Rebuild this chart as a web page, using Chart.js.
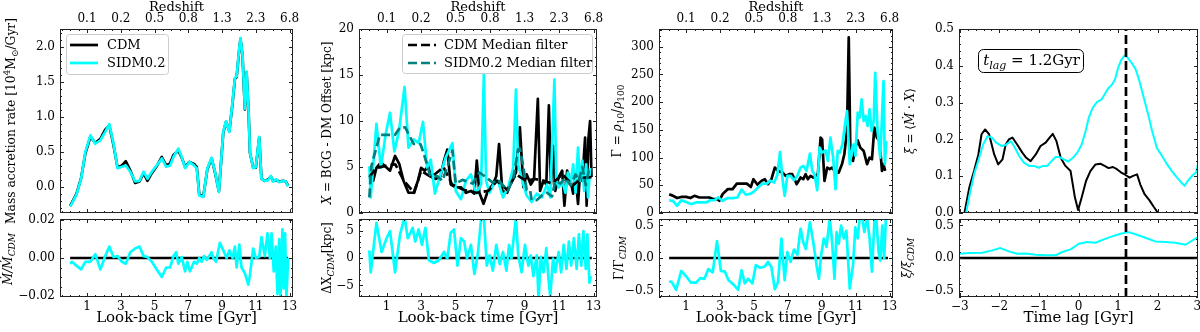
<!DOCTYPE html>
<html>
<head>
<meta charset="utf-8">
<script src="https://cdn.jsdelivr.net/npm/chart.js@4.4.1/dist/chart.umd.min.js"></script>
<style>
  body { margin: 0; width: 1200px; height: 332px; background: #fff; position: relative; overflow: hidden; }
  canvas { position: absolute; }
</style>
</head>
<body>
<script>
// ---- data ----
const lookbackTicks = [1, 3, 5, 7, 9, 11, 13];
const zLabels = ['0.1', '0.2', '0.5', '0.8', '1.3', '2.3', '6.8'];
const lagTicks = [-3, -2, -1, 0, 1, 2, 3];
const tLag = 1.2;

// panel 1: mass accretion rate
const p1Time = [0.0, 0.11, 0.37, 0.65, 0.90, 1.20, 1.49, 1.79, 2.08, 2.32, 2.57, 2.81, 3.07, 3.30, 3.56, 3.85, 4.11, 4.35, 4.58, 4.84, 5.13, 5.43, 5.69, 5.92, 6.12, 6.41, 6.61, 6.81, 7.06, 7.34, 7.50, 7.65, 7.89, 8.13, 8.38, 8.58, 8.81, 9.07, 9.23, 9.43, 9.62, 9.76, 9.86, 10.02, 10.09, 10.21, 10.35, 10.45, 10.57, 10.65, 10.84, 11.00, 11.20, 11.33, 11.53, 11.73, 11.89, 12.02, 12.22, 12.38, 12.61, 12.77, 12.91];
const p1Sidm = [-0.28, -0.23, -0.11, 0.12, 0.50, 0.74, 0.62, 0.67, 0.79, 0.90, 0.62, 0.27, 0.29, 0.31, 0.22, 0.08, 0.09, 0.22, 0.12, 0.22, 0.31, 0.41, 0.29, 0.31, 0.43, 0.55, 0.43, 0.27, 0.36, 0.31, 0.27, -0.12, -0.14, 0.27, 0.42, 0.22, -0.07, 0.79, 0.94, 0.79, 1.22, 1.56, 1.58, 1.99, 2.13, 1.89, 1.12, 1.65, 1.08, 0.50, 0.27, 0.29, 0.72, 0.12, 0.09, 0.10, 0.16, 0.08, 0.11, 0.07, 0.09, 0.08, 0.01];
const p1Cdm = [-0.27, -0.22, -0.10, 0.13, 0.48, 0.72, 0.63, 0.69, 0.82, 0.88, 0.60, 0.28, 0.31, 0.37, 0.24, 0.06, 0.08, 0.20, 0.09, 0.20, 0.30, 0.43, 0.31, 0.34, 0.46, 0.52, 0.42, 0.29, 0.36, 0.33, 0.29, -0.11, -0.13, 0.26, 0.41, 0.21, -0.06, 0.78, 0.93, 0.80, 1.20, 1.55, 1.57, 1.98, 2.12, 1.88, 1.11, 1.64, 1.07, 0.49, 0.28, 0.28, 0.71, 0.12, 0.09, 0.11, 0.15, 0.09, 0.10, 0.08, 0.09, 0.08, 0.02];
const p1RatioTime = [0.0, 0.11, 0.37, 0.65, 0.90, 1.20, 1.49, 1.79, 2.08, 2.32, 2.57, 2.81, 3.07, 3.30, 3.56, 3.85, 4.11, 4.35, 4.58, 4.84, 5.13, 5.43, 5.69, 5.92, 6.12, 6.28, 6.41, 6.61, 6.81, 6.94, 7.10, 7.34, 7.50, 7.65, 7.79, 7.93, 8.09, 8.24, 8.38, 8.48, 8.64, 8.87, 9.07, 9.27, 9.43, 9.62, 9.76, 9.86, 10.02, 10.15, 10.35, 10.55, 10.65, 10.84, 11.00, 11.20, 11.33, 11.53, 11.69, 11.83, 11.93, 12.06, 12.18, 12.28, 12.38, 12.46, 12.57, 12.65, 12.73, 12.81, 12.91];
const p1Ratio = [-0.003, -0.002, -0.004, -0.006, -0.002, -0.002, 0.002, -0.006, 0.001, 0.006, 0.0005, 0.001, -0.002, -0.003, 0.003, 0.005, 0.006, 0.001, 0.0005, -0.002, -0.006, -0.010, -0.005, -0.005, 0.001, 0.003, -0.003, 0.0005, -0.007, -0.002, -0.007, -0.002, -0.003, 0, -0.002, 0.001, -0.001, 0.001, 0.003, 0, -0.002, 0.008, 0.004, 0, 0.004, 0, 0.006, -0.005, 0.007, -0.005, -0.008, -0.014, -0.009, 0.005, 0, 0.0005, 0.011, 0.001, 0.013, 0, 0.013, -0.007, 0.006, -0.019, 0.010, -0.022, 0.015, -0.016, 0.013, -0.021, 0];

// panel 2: BCG - DM offset
const p2CdmTime = [0.0, 0.22, 0.41, 0.67, 0.90, 1.20, 1.49, 1.74, 1.98, 2.27, 2.57, 2.82, 3.00, 3.21, 3.41, 3.60, 3.84, 4.13, 4.33, 4.52, 4.72, 5.01, 5.31, 5.60, 5.89, 6.09, 6.23, 6.38, 6.62, 6.87, 7.16, 7.36, 7.52, 7.71, 7.99, 8.24, 8.50, 8.73, 8.93, 9.12, 9.36, 9.55, 9.77, 9.90, 10.10, 10.26, 10.41, 10.53, 10.65, 10.78, 10.98, 11.18, 11.31, 11.47, 11.67, 11.82, 11.96, 12.10, 12.21, 12.35, 12.51, 12.60, 12.70, 12.80, 12.88];
const p2Cdm = [3.9, 3.5, 4.9, 5.5, 5.1, 4.6, 6.2, 5.3, 3.5, 2.2, 2.2, 3.5, 4.9, 4.6, 5.1, 3.9, 3.7, 4.0, 5.7, 6.9, 3.1, 2.8, 2.8, 2.2, 2.4, 2.1, 5.7, 2.2, 1.0, 2.4, 3.1, 4.0, 7.5, 2.4, 2.2, 3.5, 4.4, 9.3, 2.8, 4.2, 3.1, 3.7, 12.4, 2.4, 3.5, 3.1, 11.7, 3.1, 7.3, 2.4, 3.9, 4.6, 0.8, 4.6, 3.5, 2.1, 4.0, 1.0, 4.2, 3.5, 8.2, 0.8, 8.0, 10.0, 3.9];
const p2SidmTime = [0.0, 0.08, 0.41, 0.67, 0.94, 1.20, 1.45, 1.72, 2.04, 2.27, 2.57, 2.86, 3.11, 3.35, 3.56, 3.80, 4.13, 4.42, 4.82, 5.01, 5.31, 5.60, 5.89, 6.19, 6.48, 6.64, 6.77, 6.97, 7.20, 7.46, 7.75, 8.05, 8.34, 8.50, 8.63, 8.87, 9.12, 9.41, 9.71, 10.00, 10.30, 10.49, 10.73, 10.84, 10.98, 11.18, 11.37, 11.51, 11.67, 11.82, 11.96, 12.10, 12.21, 12.35, 12.45, 12.57, 12.68, 12.80];
const p2Sidm = [5.1, 1.7, 9.7, 4.9, 8.5, 10.9, 6.7, 8.9, 13.7, 7.1, 8.0, 7.6, 9.9, 4.9, 5.8, 2.1, 4.2, 6.0, 7.6, 2.4, 1.5, 3.5, 4.2, 2.1, 3.1, 15.1, 3.5, 2.2, 3.1, 3.5, 1.7, 2.8, 4.9, 13.4, 5.3, 3.5, 1.9, 1.2, 2.1, 1.7, 3.1, 1.7, 14.5, 3.5, 2.8, 3.5, 2.2, 4.4, 3.1, 5.3, 2.2, 7.1, 3.5, 5.7, 2.4, 5.3, 1.7, 4.9];
const p2CdmMedTime = [0.0, 0.4, 0.9, 1.5, 2.0, 2.6, 3.0, 3.6, 4.3, 4.8, 5.5, 6.2, 6.9, 7.4, 8.0, 8.5, 9.1, 9.6, 10.1, 10.6, 11.2, 11.8, 12.3, 12.9];
const p2CdmMed = [3.9, 4.9, 5.1, 5.3, 3.5, 2.2, 4.6, 3.9, 5.0, 3.1, 2.5, 2.2, 2.4, 3.5, 2.5, 4.2, 3.5, 3.7, 3.5, 3.2, 4.2, 3.0, 3.8, 3.9];
const p2SidmMedTime = [0.0, 0.12, 0.61, 1.49, 1.78, 2.08, 2.57, 2.96, 3.15, 3.54, 3.94, 4.23, 4.52, 4.82, 5.01, 5.40, 5.99, 6.38, 6.68, 7.16, 7.46, 7.75, 8.05, 8.34, 8.63, 8.73, 8.93, 9.12, 9.32, 9.41, 9.71, 10.00, 10.30, 10.59, 10.78, 11.08, 11.37, 11.67, 11.96, 12.15, 12.35, 12.55, 12.74];
const p2SidmMed = [1.7, 5.1, 8.5, 8.5, 9.3, 9.3, 7.5, 7.5, 6.5, 4.0, 4.0, 3.5, 5.0, 6.8, 3.2, 3.6, 3.2, 4.4, 4.0, 3.3, 3.6, 3.0, 2.5, 3.7, 6.9, 7.0, 5.0, 2.5, 2.5, 1.4, 1.4, 1.9, 2.2, 1.8, 3.5, 3.2, 3.8, 3.0, 4.2, 3.5, 5.0, 3.0, 4.8];
const p2RatioTime = [0.0, 0.08, 0.41, 0.71, 1.00, 1.20, 1.49, 1.78, 2.04, 2.23, 2.51, 2.66, 2.86, 3.05, 3.25, 3.45, 3.74, 4.03, 4.33, 4.52, 4.72, 4.91, 5.11, 5.31, 5.50, 5.66, 5.89, 6.09, 6.28, 6.48, 6.64, 6.81, 6.97, 7.16, 7.36, 7.56, 7.75, 7.95, 8.10, 8.24, 8.50, 8.63, 8.83, 9.02, 9.22, 9.36, 9.51, 9.71, 9.81, 9.94, 10.10, 10.26, 10.39, 10.49, 10.65, 10.78, 10.98, 11.12, 11.27, 11.43, 11.57, 11.70, 11.86, 12.02, 12.15, 12.29, 12.41, 12.55, 12.64, 12.76, 12.84];
const p2Ratio = [1.4, -2.6, 6.4, 1.1, 3.6, 4.9, -2.6, 4.3, 7.4, 3.6, 5.5, 3.0, 5.2, 2.4, 5.5, -0.4, -0.9, -0.4, 1.1, -0.1, 4.6, 5.2, -1.4, 3.6, 3.0, -0.1, 2.4, -2.9, 0.5, 7.1, 7.4, -1.4, 0.5, -2.3, 2.4, -1.1, 1.1, -2.3, 2.4, -0.1, 7.4, 0.5, -2.6, 2.4, -1.4, 0.5, -3.3, 0.5, -7.6, 0.2, -2.6, 1.8, -3.9, -7.0, -0.1, -2.6, 1.1, -2.6, 2.4, -2.0, 3.0, -1.4, 3.6, -2.0, 4.3, -1.4, 4.9, -2.0, 4.3, -4.5, -3.3];

// panel 3: central density ratio
const p3CdmTime = [0.0, 0.22, 0.47, 0.71, 1.00, 1.25, 1.49, 1.78, 2.08, 2.37, 2.62, 2.86, 2.96, 3.15, 3.45, 3.74, 3.99, 4.27, 4.58, 4.82, 4.97, 5.21, 5.44, 5.64, 5.83, 6.03, 6.23, 6.42, 6.68, 6.87, 7.07, 7.26, 7.52, 7.75, 7.91, 8.05, 8.18, 8.34, 8.50, 8.63, 8.77, 8.93, 9.02, 9.16, 9.32, 9.47, 9.61, 9.81, 10.00, 10.20, 10.33, 10.49, 10.59, 10.69, 10.84, 10.98, 11.12, 11.27, 11.47, 11.67, 11.82, 11.96, 12.10, 12.25, 12.41, 12.55, 12.64, 12.74];
const p3Cdm = [34, 31, 27, 29, 29, 27, 31, 28, 28, 28, 25, 25, 22, 34, 43, 43, 53, 53, 53, 47, 61, 51, 58, 61, 52, 61, 82, 76, 73, 67, 70, 70, 52, 64, 61, 70, 61, 67, 64, 67, 70, 136, 133, 58, 82, 79, 82, 73, 73, 89, 106, 150, 317, 100, 94, 118, 131, 118, 112, 88, 100, 97, 154, 136, 130, 76, 88, 76];
const p3SidmTime = [0.0, 0.22, 0.47, 0.71, 1.00, 1.29, 1.59, 1.88, 2.17, 2.43, 2.66, 2.90, 3.15, 3.45, 3.74, 4.03, 4.27, 4.52, 4.82, 5.01, 5.21, 5.50, 5.76, 5.95, 6.19, 6.38, 6.54, 6.68, 6.81, 6.97, 7.16, 7.36, 7.56, 7.75, 7.91, 8.10, 8.30, 8.44, 8.57, 8.73, 8.87, 9.02, 9.22, 9.36, 9.51, 9.67, 9.81, 9.94, 10.06, 10.22, 10.37, 10.49, 10.65, 10.77, 10.88, 10.98, 11.12, 11.23, 11.35, 11.47, 11.59, 11.70, 11.82, 11.94, 12.06, 12.15, 12.29, 12.45, 12.64, 12.72, 12.80];
const p3Sidm = [23, 22, 13, 23, 20, 16, 19, 19, 19, 23, 23, 28, 22, 27, 27, 28, 42, 33, 35, 39, 45, 53, 53, 58, 55, 69, 110, 63, 31, 67, 67, 59, 67, 82, 85, 76, 107, 76, 70, 41, 118, 109, 113, 94, 136, 100, 43, 112, 109, 124, 160, 184, 88, 112, 124, 103, 181, 172, 205, 166, 175, 157, 187, 148, 166, 253, 148, 100, 238, 88, 130];
const p3RatioTime = [0.0, 0.16, 0.41, 0.71, 1.00, 1.29, 1.59, 1.84, 2.08, 2.31, 2.57, 2.82, 3.05, 3.29, 3.49, 3.80, 4.07, 4.27, 4.46, 4.66, 4.91, 5.11, 5.36, 5.64, 5.83, 6.03, 6.23, 6.42, 6.62, 6.81, 6.97, 7.16, 7.36, 7.56, 7.75, 7.91, 8.06, 8.30, 8.50, 8.69, 8.83, 8.96, 9.12, 9.28, 9.47, 9.61, 9.75, 9.87, 10.00, 10.14, 10.30, 10.45, 10.65, 10.84, 10.98, 11.12, 11.23, 11.37, 11.51, 11.67, 11.82, 11.96, 12.10, 12.21, 12.35, 12.45, 12.57, 12.68, 12.78];
const p3Ratio = [-0.36, -0.37, -0.49, -0.20, -0.28, -0.38, -0.38, -0.31, -0.32, -0.17, -0.22, 0.26, -0.20, -0.21, -0.34, -0.41, -0.49, -0.19, -0.39, -0.32, -0.39, -0.11, -0.15, -0.13, -0.06, -0.14, -0.48, -0.37, 0.30, -0.34, 0.09, -0.06, 0.13, 0.05, 0.45, 0.24, 0.14, 0.55, 0.24, -0.11, -0.32, 0.04, 0.30, 0.17, 0.62, 0.24, -0.32, 0.40, 0.22, 0.50, 0.30, 0.42, -0.47, -0.11, 0.47, 0.30, 0.62, 0.65, 0.40, 0.62, 0.30, -0.21, 0.55, 0.62, 0.09, -0.04, 0.50, -0.01, 0.62];

// panel 4: cross-correlation vs time lag
const p4CdmLag = [-2.90, -2.76, -2.64, -2.53, -2.45, -2.36, -2.26, -2.13, -2.03, -1.92, -1.84, -1.76, -1.67, -1.55, -1.42, -1.32, -1.21, -1.08, -0.96, -0.83, -0.73, -0.65, -0.56, -0.45, -0.33, -0.20, -0.09, -0.01, 0.08, 0.19, 0.30, 0.43, 0.55, 0.66, 0.76, 0.87, 0.97, 1.08, 1.18, 1.29, 1.38, 1.48, 1.56, 1.67, 1.79, 1.90, 2.01, 2.08];
const p4Cdm = [-0.01, 0.069, 0.114, 0.159, 0.214, 0.227, 0.214, 0.159, 0.132, 0.146, 0.186, 0.200, 0.205, 0.186, 0.164, 0.150, 0.141, 0.159, 0.182, 0.191, 0.205, 0.215, 0.196, 0.150, 0.128, 0.114, 0.042, 0.008, 0.042, 0.087, 0.114, 0.132, 0.134, 0.128, 0.122, 0.125, 0.119, 0.110, 0.104, 0.096, 0.101, 0.105, 0.078, 0.051, 0.035, 0.017, 0.0, -0.01];
const p4SidmLag = [-2.86, -2.75, -2.64, -2.51, -2.41, -2.30, -2.19, -2.08, -1.94, -1.84, -1.71, -1.63, -1.50, -1.38, -1.25, -1.13, -1.00, -0.90, -0.79, -0.68, -0.58, -0.48, -0.37, -0.26, -0.14, -0.03, 0.08, 0.18, 0.26, 0.36, 0.47, 0.58, 0.68, 0.76, 0.85, 0.92, 1.00, 1.08, 1.17, 1.25, 1.35, 1.45, 1.54, 1.65, 1.76, 1.86, 1.98, 2.11, 2.24, 2.36, 2.49, 2.60, 2.68, 2.76, 2.87, 2.97, 3.02];
const p4Sidm = [-0.01, 0.051, 0.105, 0.150, 0.186, 0.209, 0.205, 0.191, 0.182, 0.185, 0.195, 0.182, 0.155, 0.137, 0.128, 0.128, 0.123, 0.128, 0.128, 0.141, 0.152, 0.152, 0.146, 0.140, 0.150, 0.164, 0.186, 0.223, 0.259, 0.286, 0.302, 0.308, 0.326, 0.340, 0.349, 0.362, 0.394, 0.416, 0.428, 0.421, 0.407, 0.389, 0.358, 0.313, 0.268, 0.223, 0.177, 0.155, 0.132, 0.114, 0.096, 0.083, 0.074, 0.087, 0.101, 0.110, 0.132];
const p4RatioLag = [-3.02, -2.76, -2.43, -2.18, -1.97, -1.76, -1.55, -1.34, -1.08, -0.83, -0.58, -0.41, -0.20, 0.01, 0.22, 0.43, 0.64, 0.85, 1.06, 1.27, 1.48, 1.69, 1.94, 2.19, 2.45, 2.70, 3.02];
const p4Ratio = [0.066, 0.077, 0.082, 0.117, 0.153, 0.102, 0.066, 0.071, 0.051, 0.041, 0.041, 0.092, 0.133, 0.219, 0.245, 0.235, 0.286, 0.332, 0.372, 0.398, 0.357, 0.311, 0.255, 0.245, 0.235, 0.204, 0.321];

// ---- drawing helpers ----
const SERIF = '"DejaVu Serif", serif';
const CYAN = '#00ffff';
const TEAL = '#008080';
Chart.defaults.font.family = SERIF;
Chart.defaults.font.size = 12;
Chart.defaults.color = '#000';

const minus = s => s.replace('-', '\u2212');
const fmt = d => v => minus((Math.abs(v) < 1e-9 ? 0 : v).toFixed(d));

function line(label, t, v, color, extra) {
  return Object.assign({
    label, data: t.map((x, i) => ({ x, y: v[i] })),
    borderColor: color, borderWidth: 2.7, pointRadius: 0,
    borderJoinStyle: 'round', fill: false, tension: 0
  }, extra);
}

function drawRich(ctx, segs, x, y, rot, size) {
  const parts = segs.map(([t, f = '']) => {
    const small = f.includes('b') || f.includes('p');
    const font = (f.includes('i') ? 'italic ' : '') + (small ? Math.round(size * 0.72) : size) + 'px ' + SERIF;
    ctx.font = font;
    return { t, font, w: ctx.measureText(t).width, dy: f.includes('b') ? size * 0.28 : f.includes('p') ? -size * 0.35 : 0 };
  });
  const total = parts.reduce((s, p) => s + p.w, 0);
  ctx.save();
  ctx.translate(x, y);
  ctx.rotate(rot);
  ctx.fillStyle = '#000';
  ctx.textBaseline = 'middle';
  let cx = -total / 2;
  parts.forEach(p => { ctx.font = p.font; ctx.fillText(p.t, cx, p.dy); cx += p.w; });
  ctx.restore();
}

// inward ticks on all four sides + axes frame
function frame(spec) {
  return {
    id: 'frame',
    afterDraw(chart) {
      const { ctx, chartArea: a, scales } = chart;
      ctx.save();
      ctx.strokeStyle = '#222';
      ctx.lineWidth = 1;
      const marks = (sc, step, base, len, horiz) => {
        const first = Math.ceil((sc.min - base) / step - 1e-6) * step + base;
        for (let k = 0; first + k * step <= sc.max + 1e-9; k++) {
          const p = Math.round(sc.getPixelForValue(first + k * step)) + 0.5;
          ctx.beginPath();
          if (horiz) {
            ctx.moveTo(p, a.bottom); ctx.lineTo(p, a.bottom - len);
            ctx.moveTo(p, a.top); ctx.lineTo(p, a.top + len);
          } else {
            ctx.moveTo(a.left, p); ctx.lineTo(a.left + len, p);
            ctx.moveTo(a.right, p); ctx.lineTo(a.right - len, p);
          }
          ctx.stroke();
        }
      };
      marks(scales.x, spec.x[2], 0, 2, true);
      marks(scales.x, spec.x[0], spec.x[1], 4, true);
      marks(scales.y, spec.y[2], 0, 2, false);
      marks(scales.y, spec.y[0], spec.y[1], 4, false);
      ctx.strokeRect(Math.round(a.left) + 0.5, Math.round(a.top) + 0.5,
        Math.round(a.right - a.left) - 1, Math.round(a.bottom - a.top) - 1);
      ctx.restore();
    }
  };
}

// y-axis titles (and the t_lag label) with sub/superscripts
function rich(items) {
  return {
    id: 'rich',
    afterDraw(chart) {
      const { ctx, chartArea: a } = chart;
      items.forEach(it => {
        if (it.box) {
          const x = a.left + it.box[0], y = a.top + it.box[1];
          ctx.save();
          ctx.fillStyle = '#fff';
          ctx.strokeStyle = '#000';
          ctx.lineWidth = 1;
          ctx.beginPath();
          ctx.roundRect(x + 0.5, y + 0.5, it.box[2], it.box[3], 5);
          ctx.fill();
          ctx.stroke();
          ctx.restore();
          drawRich(ctx, it.segs, x + it.box[2] / 2 + 1, y + it.box[3] / 2 + 1, 0, it.size);
        } else {
          drawRich(ctx, it.segs, a.left + it.dx, (a.top + a.bottom) / 2 + (it.dy || 0), -Math.PI / 2, it.size);
        }
      });
    }
  };
}

function boxLegend(o) {
  return {
    id: 'boxLegend',
    afterDraw(chart) {
      const { ctx, chartArea: a } = chart;
      const x = a.left + o.dx, y = a.top + o.dy;
      ctx.save();
      ctx.fillStyle = 'rgba(255,255,255,0.8)';
      ctx.strokeStyle = '#cccccc';
      ctx.lineWidth = 1;
      ctx.beginPath();
      ctx.roundRect(x + 0.5, y + 0.5, o.w, o.h, 3);
      ctx.fill();
      ctx.stroke();
      o.items.forEach((di, k) => {
        const ds = chart.data.datasets[di];
        const ly = y + 11 + k * 18;
        ctx.strokeStyle = ds.borderColor;
        ctx.lineWidth = ds.borderWidth;
        ctx.setLineDash(ds.borderDash || []);
        ctx.beginPath();
        ctx.moveTo(x + o.lx, ly);
        ctx.lineTo(x + o.lx + 28, ly);
        ctx.stroke();
        ctx.setLineDash([]);
        ctx.fillStyle = '#000';
        ctx.font = '13px ' + SERIF;
        ctx.textBaseline = 'middle';
        ctx.fillText(ds.label, x + o.tx, ly + 1);
      });
      ctx.restore();
    }
  };
}

function yAxis(min, max, ticks, dec) {
  return {
    type: 'linear', position: 'left', min, max,
    afterBuildTicks: s => { s.ticks = ticks.map(value => ({ value })); },
    afterFit: s => { s.width = 60; },
    grid: { display: false, drawTicks: false },
    border: { display: false },
    ticks: { padding: 5, autoSkip: false, font: { size: 12 }, callback: fmt(dec) }
  };
}

function xAxis(min, max, ticks, title) {
  return {
    type: 'linear', position: 'bottom', min, max,
    afterBuildTicks: s => { s.ticks = ticks.map(value => ({ value })); },
    afterFit: s => { s.height = 35; },
    grid: { display: false, drawTicks: false },
    border: { display: false },
    ticks: { padding: 3, autoSkip: false, maxRotation: 0, font: { size: 12 }, callback: fmt(0) },
    title: { display: true, text: title, font: { size: 15 }, padding: { top: 0, bottom: 5 } }
  };
}

function redshiftAxis(min, max) {
  return {
    type: 'linear', position: 'top', min, max,
    afterBuildTicks: s => { s.ticks = lookbackTicks.map(value => ({ value })); },
    afterFit: s => { s.height = 29; },
    grid: { display: false, drawTicks: false },
    border: { display: false },
    ticks: { padding: 3, autoSkip: false, maxRotation: 0, font: { size: 12 }, callback: (v, i) => zLabels[i] },
    title: { display: true, text: 'Redshift', font: { size: 13 }, padding: { top: 0, bottom: 0 } }
  };
}

const hiddenX = (min, max) => ({ type: 'linear', min, max, display: false });

function canvasAt(x, y, w, h) {
  const c = document.createElement('canvas');
  c.width = w; c.height = h;
  c.style.left = x + 'px'; c.style.top = y + 'px';
  c.style.width = w + 'px'; c.style.height = h + 'px';
  document.body.appendChild(c);
  return c;
}

// plot boxes: main 29..213, ratio 219..297
const boxes = [{ l: 60, r: 293 }, { l: 359, r: 597 }, { l: 659, r: 893 }, { l: 959, r: 1198 }];

function mainChart(i, datasets, scales, plugins, topAxis) {
  const b = boxes[i];
  return new Chart(canvasAt(b.l - 60, 0, b.r - b.l + 76, 240), {
    type: 'line',
    data: { datasets },
    options: {
      responsive: false, animation: false, events: [],
      layout: { padding: { left: 0, right: 16, top: topAxis ? 0 : 29, bottom: 27 } },
      plugins: { legend: { display: false }, tooltip: { enabled: false } },
      scales
    },
    plugins
  });
}

function ratioChart(i, datasets, scales, plugins) {
  const b = boxes[i];
  return new Chart(canvasAt(b.l - 60, 205, b.r - b.l + 76, 127), {
    type: 'line',
    data: { datasets },
    options: {
      responsive: false, animation: false, events: [],
      layout: { padding: { left: 0, right: 16, top: 14, bottom: 0 } },
      plugins: { legend: { display: false }, tooltip: { enabled: false } },
      scales
    },
    plugins
  });
}

const TMIN = -0.6, TMAX = 13.2, LMIN = -3.02, LMAX = 3.02;
const lookZero = [0, 12.9];
const zeros = [0, 0];

// ---- panel 1 ----
mainChart(0, [
  line('CDM', p1Time, p1Cdm, '#000', { order: 1 }),
  line('SIDM0.2', p1Time, p1Sidm, CYAN, { order: 0 })
], {
  x: hiddenX(TMIN, TMAX), x2: redshiftAxis(TMIN, TMAX),
  y: yAxis(-0.37, 2.26, [0, 0.5, 1, 1.5, 2], 1)
}, [
  frame({ x: [2, 1, 0.5], y: [0.5, 0, 0.1] }),
  rich([{ dx: -48, dy: 0, size: 12.3, segs: [['Mass accretion rate [10'], ['4', 'p'], ['M'], ['\u2299', 'b'], ['/Gyr]']] }]),
  boxLegend({ dx: 6, dy: 5, w: 102, h: 40, lx: 4, tx: 41, items: [0, 1] })
], true);

ratioChart(0, [
  line('CDM', lookZero, zeros, '#000', { order: 1 }),
  line('SIDM0.2', p1RatioTime, p1Ratio, CYAN, { order: 0 })
], {
  x: xAxis(TMIN, TMAX, lookbackTicks, 'Look-back time [Gyr]'),
  y: yAxis(-0.0205, 0.0205, [-0.02, 0, 0.02], 2)
}, [
  frame({ x: [2, 1, 0.5], y: [0.02, 0, 0.005] }),
  rich([{ dx: -51, dy: 1, size: 12, segs: [['\u1E40/\u1E40', 'i'], ['CDM', 'ib']] }])
]);

// ---- panel 2 ----
mainChart(1, [
  line('CDM', p2CdmTime, p2Cdm, '#000', { order: 3 }),
  line('SIDM0.2', p2SidmTime, p2Sidm, CYAN, { order: 2 }),
  line('CDM Median filter', p2CdmMedTime, p2CdmMed, '#000', { order: 1, borderDash: [9, 4] }),
  line('SIDM0.2 Median filter', p2SidmMedTime, p2SidmMed, TEAL, { order: 0, borderDash: [9, 4] })
], {
  x: hiddenX(TMIN, TMAX), x2: redshiftAxis(TMIN, TMAX),
  y: yAxis(0, 20, [0, 5, 10, 15, 20], 0)
}, [
  frame({ x: [2, 1, 0.5], y: [5, 0, 1] }),
  rich([{ dx: -31, dy: 2, size: 12, segs: [['X', 'i'], [' = BCG - DM Offset [kpc]']] }]),
  boxLegend({ dx: 43, dy: 5, w: 190, h: 39, lx: 6, tx: 42, items: [2, 3] })
], true);

ratioChart(1, [
  line('CDM', lookZero, zeros, '#000', { order: 1 }),
  line('SIDM0.2', p2RatioTime, p2Ratio, CYAN, { order: 0 })
], {
  x: xAxis(TMIN, TMAX, lookbackTicks, 'Look-back time [Gyr]'),
  y: yAxis(-7.1, 7.1, [-5, 0, 5], 0)
}, [
  frame({ x: [2, 1, 0.5], y: [5, 0, 1] }),
  rich([{ dx: -31, dy: 0, size: 12, segs: [['\u0394X'], ['CDM', 'ib'], ['[kpc]']] }])
]);

// ---- panel 3 ----
mainChart(2, [
  line('CDM', p3CdmTime, p3Cdm, '#000', { order: 1 }),
  line('SIDM0.2', p3SidmTime, p3Sidm, CYAN, { order: 0 })
], {
  x: hiddenX(TMIN, TMAX), x2: redshiftAxis(TMIN, TMAX),
  y: yAxis(0, 332, [0, 50, 100, 150, 200, 250, 300], 0)
}, [
  frame({ x: [2, 1, 0.5], y: [50, 0, 10] }),
  rich([{ dx: -41, dy: 0, size: 12, segs: [['\u0393 = '], ['\u03C1', 'i'], ['10', 'b'], ['/'], ['\u03C1', 'i'], ['100', 'b']] }])
], true);

ratioChart(2, [
  line('CDM', lookZero, zeros, '#000', { order: 1 }),
  line('SIDM0.2', p3RatioTime, p3Ratio, CYAN, { order: 0 })
], {
  x: xAxis(TMIN, TMAX, lookbackTicks, 'Look-back time [Gyr]'),
  y: yAxis(-0.6, 0.6, [-0.5, 0, 0.5], 1)
}, [
  frame({ x: [2, 1, 0.5], y: [0.5, 0, 0.1] }),
  rich([{ dx: -39, dy: 0, size: 12, segs: [['\u0393/\u0393'], ['CDM', 'ib']] }])
]);

// ---- panel 4 ----
mainChart(3, [
  line('CDM', p4CdmLag, p4Cdm, '#000', { order: 2, borderWidth: 2 }),
  line('SIDM0.2', p4SidmLag, p4Sidm, CYAN, { order: 1, borderWidth: 2 }),
  line('t_lag', [tLag, tLag], [0, 0.5], '#000', { order: 0, borderDash: [9, 4] })
], {
  x: hiddenX(LMIN, LMAX),
  y: yAxis(0, 0.5, [0, 0.1, 0.2, 0.3, 0.4, 0.5], 1)
}, [
  frame({ x: [1, 0, 0.2], y: [0.1, 0, 0.02] }),
  rich([
    { dx: -48, dy: 0, size: 12, segs: [['\u03BE', 'i'], [' = \u27E8'], ['\u1E40', 'i'], [' \u00B7 '], ['X', 'i'], ['\u27E9']] },
    { box: [19, 20, 105, 23], size: 15, segs: [['t', 'i'], ['lag', 'ib'], [' = 1.2Gyr']] }
  ])
], false);

ratioChart(3, [
  line('CDM', [LMIN, LMAX], zeros, '#000', { order: 2 }),
  line('SIDM0.2', p4RatioLag, p4Ratio, CYAN, { order: 1, borderWidth: 2 }),
  line('t_lag', [tLag, tLag], [-0.6, 0.6], '#000', { order: 0, borderDash: [9, 4] })
], {
  x: xAxis(LMIN, LMAX, lagTicks, 'Time lag [Gyr]'),
  y: yAxis(-0.6, 0.6, [-0.5, 0, 0.5], 1)
}, [
  frame({ x: [1, 0, 0.2], y: [0.5, 0, 0.1] }),
  rich([{ dx: -51, dy: 0, size: 12, segs: [['\u03BE/\u03BE', 'i'], ['CDM', 'ib']] }])
]);
</script>
</body>
</html>
